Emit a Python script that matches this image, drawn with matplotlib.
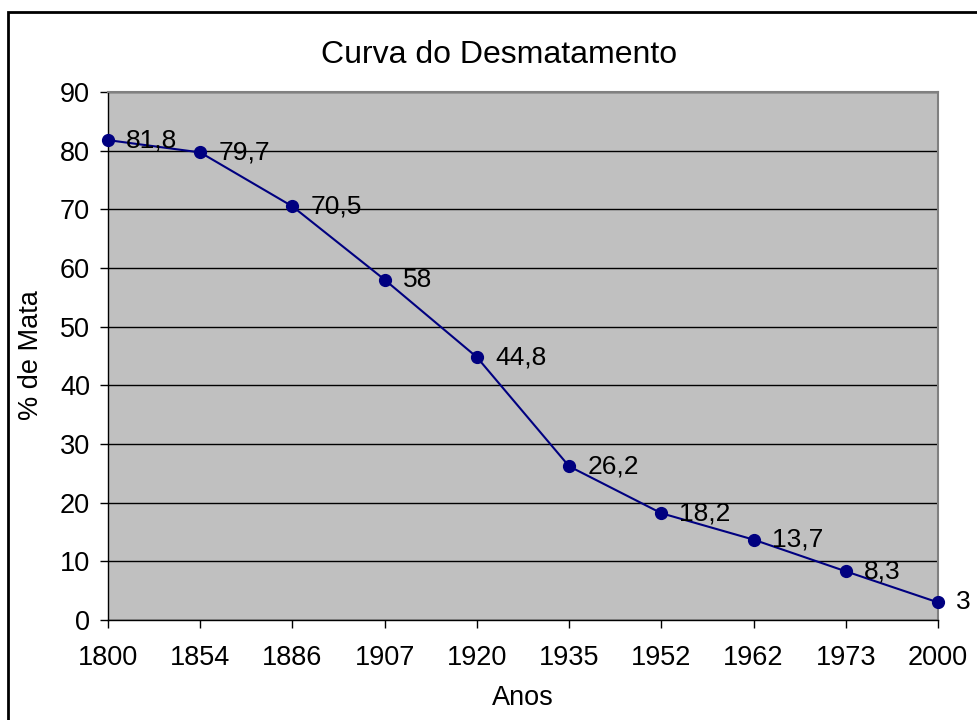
import matplotlib
matplotlib.use("Agg")
import matplotlib.pyplot as plt
from matplotlib.patches import Rectangle

years = ["1800", "1854", "1886", "1907", "1920", "1935", "1952", "1962", "1973", "2000"]
mata = [81.8, 79.7, 70.5, 58, 44.8, 26.2, 18.2, 13.7, 8.3, 3]
labels = ["81,8", "79,7", "70,5", "58", "44,8", "26,2", "18,2", "13,7", "8,3", "3"]

plt.rcParams['font.family'] = ['Liberation Sans', 'DejaVu Sans']

W, H = 977, 720
fig = plt.figure(figsize=(W / 100, H / 100), dpi=100)
ax = fig.add_axes([108 / W, 1 - 620 / H, (938 - 108) / W, (620 - 92) / H])
ax.set_facecolor('#C0C0C0')

x = list(range(len(years)))
ax.plot(x, mata, color='#000080', lw=1.5, marker='o', markersize=8.5,
        markerfacecolor='#000080', markeredgecolor='#000080', clip_on=False, zorder=3)
for xi, yi, lab in zip(x, mata, labels):
    ax.annotate(lab, (xi, yi), xytext=(13, 0), textcoords='offset points',
                ha='left', va='center', fontsize=19, color='black', zorder=4,
                annotation_clip=False)

ax.set_xlim(0, len(years) - 1)
ax.set_ylim(0, 90)
ax.set_yticks(range(0, 91, 10))
ax.set_xticks(x)
ax.set_xticklabels(years)
ax.yaxis.grid(True, color='black', lw=1)
ax.set_axisbelow(True)
ax.tick_params(axis='both', labelsize=19.5, colors='black', width=1)
ax.tick_params(axis='y', length=6, pad=7)
ax.tick_params(axis='x', length=6, pad=12)

for s in ['left', 'bottom']:
    ax.spines[s].set_color('black')
    ax.spines[s].set_linewidth(1)
for s in ['top', 'right']:
    ax.spines[s].set_color('#808080')
    ax.spines[s].set_linewidth(1.5)

fig.text(499 / W, 1 - 55 / H, 'Curva do Desmatamento', ha='center', va='center', fontsize=23)
fig.text(523 / W, 1 - 698 / H, 'Anos', ha='center', va='center', fontsize=19.5)
fig.text(31 / W, 1 - 355 / H, '% de Mata', ha='center', va='center', fontsize=19.5, rotation=90)

fig.patches.append(Rectangle((8 / W, -0.05), 1.1, 1 - 12 / H + 0.05,
                             transform=fig.transFigure, fill=False, edgecolor='black', lw=2))

fig.savefig('out.png', dpi=100)
